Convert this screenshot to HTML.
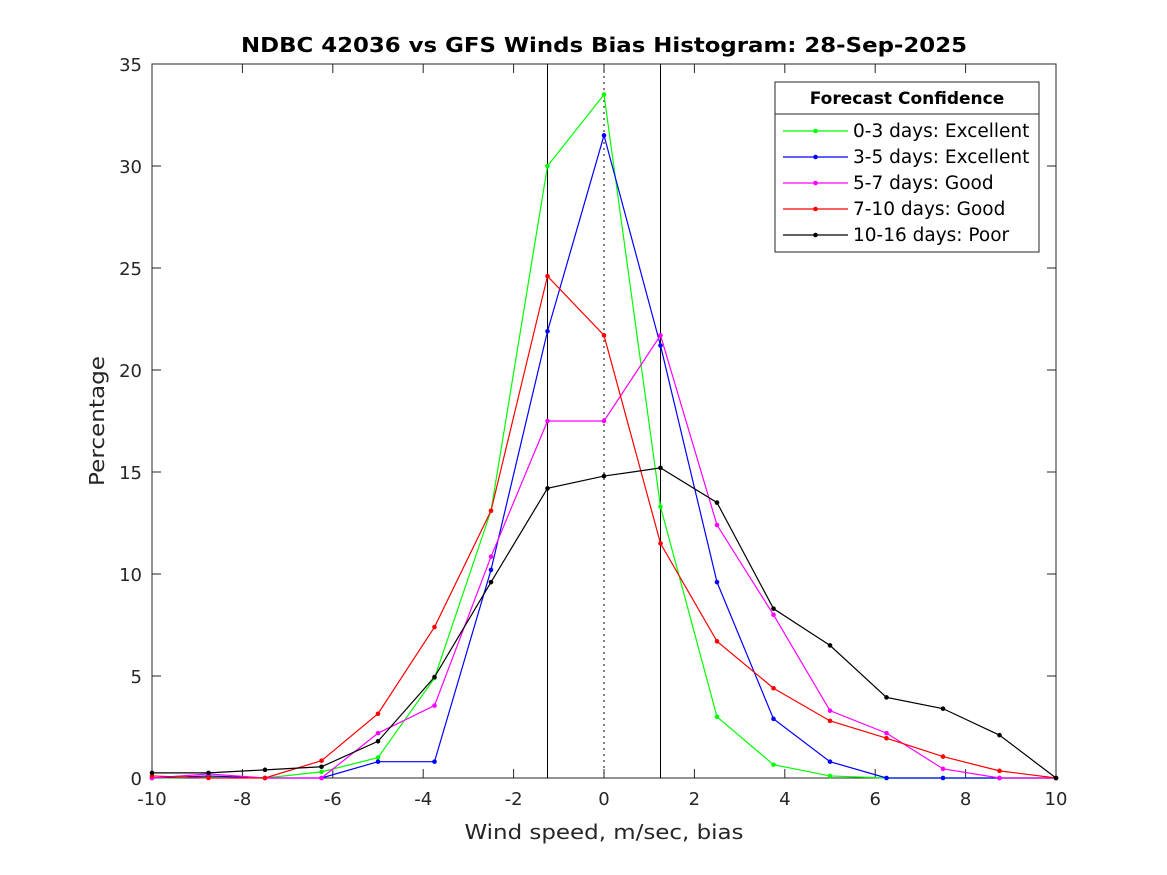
<!DOCTYPE html>
<html><head><meta charset="utf-8"><style>
body{margin:0;background:#fff;}
svg{display:block;font-family:"DejaVu Sans","Liberation Sans",sans-serif;}
</style></head><body>
<svg id="chart" width="1167" height="875">
<rect width="1167" height="875" fill="#fff"/>
<text x="604" y="52" text-anchor="middle" font-size="20" font-weight="bold" textLength="726" lengthAdjust="spacingAndGlyphs">NDBC 42036 vs GFS Winds Bias Histogram: 28-Sep-2025</text>
<text x="604" y="839" text-anchor="middle" font-size="20" fill="#262626" textLength="279" lengthAdjust="spacingAndGlyphs">Wind speed, m/sec, bias</text>
<text transform="translate(104,421) rotate(-90)" text-anchor="middle" font-size="20" fill="#262626" textLength="130" lengthAdjust="spacingAndGlyphs">Percentage</text>
<g id="axes"></g>
<g id="series"></g>
<g id="legend"></g>
</svg>
<script>
const xCats=[-10,-8.75,-7.5,-6.25,-5,-3.75,-2.5,-1.25,0,1.25,2.5,3.75,5,6.25,7.5,8.75,10];
const s0_3=[0,0.05,0,0.3,1.0,4.9,13.1,30.0,33.5,13.3,3.0,0.65,0.1,0,0,0,0];
const s3_5=[0,0.1,0,0,0.8,0.8,10.2,21.9,31.5,21.2,9.6,2.9,0.8,0,0,0,0];
const s5_7=[0,0.2,0,0,2.2,3.55,10.85,17.5,17.5,21.7,12.4,8.0,3.3,2.2,0.45,0,0];
const s7_10=[0.1,0,0,0.85,3.15,7.4,13.1,24.6,21.7,11.5,6.7,4.4,2.8,1.95,1.05,0.35,0];
const s10_16=[0.25,0.25,0.4,0.55,1.8,4.95,9.6,14.2,14.8,15.2,13.5,8.3,6.5,3.95,3.4,2.1,0];
const xTicks=[-10,-8,-6,-4,-2,0,2,4,6,8,10];
const yTicks=[0,5,10,15,20,25,30,35];
const seriesNames=["0-3 days: Excellent","3-5 days: Excellent","5-7 days: Good","7-10 days: Good","10-16 days: Poor"];
const NS="http://www.w3.org/2000/svg";
const L=152,R=1056,T=64,B=778;
const X=v=>L+(v+10)/20*(R-L);
const Y=v=>B-v/35*(B-T);
function mk(tag,attrs,parent){const e=document.createElementNS(NS,tag);for(const k in attrs)e.setAttribute(k,attrs[k]);parent.appendChild(e);return e;}
const axes=document.getElementById('axes');
let fr=mk('rect',{x:L,y:T,width:R-L,height:B-T,fill:'none',stroke:'#262626','stroke-width':1},axes);


xTicks.forEach(t=>{
 const x=X(t);
 let l=mk('line',{x1:x,x2:x,y1:B,y2:B-9,stroke:'#262626'},axes);
 
 
 let l2=mk('line',{x1:x,x2:x,y1:T,y2:T+9,stroke:'#262626'},axes);
 
 
 let tx=mk('text',{x:x,y:B+27,'text-anchor':'middle','font-size':18,fill:'#262626'},axes);
 tx.textContent=String(t);
 
 
});
yTicks.forEach(t=>{
 const y=Y(t);
 let l=mk('line',{x1:L,x2:L+9,y1:y,y2:y,stroke:'#262626'},axes);
 
 
 let l2=mk('line',{x1:R,x2:R-9,y1:y,y2:y,stroke:'#262626'},axes);
 
 
 let tx=mk('text',{x:L-10,y:y+7,'text-anchor':'end','font-size':18,fill:'#262626'},axes);
 tx.textContent=String(t);
 
 
});
[-1.25,1.25].forEach(v=>{
 let l=mk('line',{x1:X(v),x2:X(v),y1:T,y2:B,stroke:'#000','stroke-width':1},axes);
 
 
});
let zl=mk('line',{x1:X(0),x2:X(0),y1:T,y2:B,stroke:'#000','stroke-width':1,'stroke-dasharray':'2,4'},axes);


const allSeries=[s0_3,s3_5,s5_7,s7_10,s10_16];
const colors=['#00ff00','#0000ff','#ff00ff','#ff0000','#000000'];
const keys=['0-3','3-5','5-7','7-10','10-16'];
const sg=document.getElementById('series');
allSeries.forEach((s,i)=>{
 const g=mk('g',{},sg);
 
 
 const pts=s.map((v,j)=>X(xCats[j])+','+Y(v)).join(' ');
 let pl=mk('polyline',{points:pts,fill:'none',stroke:colors[i],'stroke-width':1.2},g);
 
 
 s.forEach((v,j)=>{
  let c=mk('circle',{cx:X(xCats[j]),cy:Y(v),r:2.3,fill:colors[i]},g);
  
  
 });
});
const lg=document.getElementById('legend');


mk('rect',{x:775,y:82,width:264,height:170,fill:'#fff',stroke:'#262626'},lg);
mk('line',{x1:775,x2:1039,y1:114,y2:114,stroke:'#262626'},lg);
let lt=mk('text',{x:907,y:104,'text-anchor':'middle','font-size':17,'font-weight':'bold'},lg);
lt.textContent='Forecast Confidence';


seriesNames.forEach((n,i)=>{
 const y=131+i*26;
 const g=mk('g',{},lg);
 
 
 mk('line',{x1:783,x2:848,y1:y,y2:y,stroke:colors[i],'stroke-width':1.2},g);
 mk('circle',{cx:815.5,cy:y,r:2.3,fill:colors[i]},g);
 const t=mk('text',{x:853,y:y+6,'font-size':18.5,fill:'#000'},g);
 t.textContent=n;
});
</script>
</body></html>
